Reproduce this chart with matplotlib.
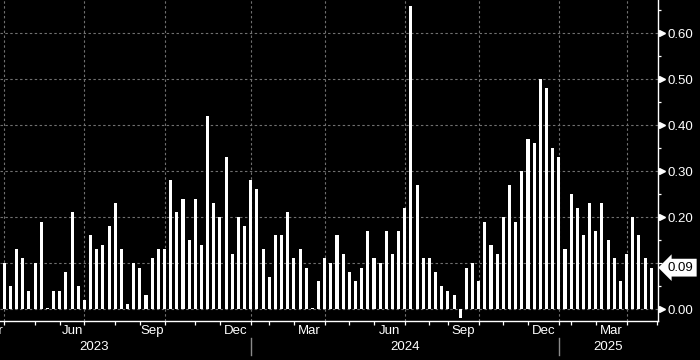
import numpy as np
import matplotlib
matplotlib.use("Agg")
import matplotlib.pyplot as plt
import matplotlib.transforms as mtransforms
from matplotlib.ticker import MultipleLocator, FixedLocator, FuncFormatter

# ---------------- data ----------------
values = [
    0.10, 0.05, 0.13, 0.11, 0.04, 0.10, 0.19, 0.002, 0.04, 0.04, 0.08, 0.21, 0.05, 0.02,
    0.16, 0.13, 0.14, 0.18, 0.23, 0.13, 0.01, 0.10, 0.09, 0.03, 0.11, 0.13, 0.13, 0.28,
    0.21, 0.24, 0.15, 0.24, 0.14, 0.42, 0.23, 0.20, 0.33, 0.12, 0.20, 0.18, 0.28, 0.26,
    0.13, 0.07, 0.16, 0.16, 0.21, 0.11, 0.13, 0.09, 0.002, 0.06, 0.11, 0.10, 0.16, 0.12,
    0.08, 0.06, 0.09, 0.17, 0.11, 0.10, 0.17, 0.12, 0.17, 0.22, 0.66, 0.27, 0.11, 0.11,
    0.08, 0.05, 0.04, 0.03, -0.02, 0.09, 0.10, 0.06, 0.19, 0.14, 0.12, 0.20, 0.27, 0.19,
    0.30, 0.37, 0.36, 0.50, 0.48, 0.35, 0.33, 0.13, 0.25, 0.22, 0.16, 0.23, 0.17, 0.23,
    0.15, 0.11, 0.06, 0.12, 0.20, 0.16, 0.11, 0.09,
]
# months from Jan 2023 to Apr 2025 and how many weekly bars fall in each
month_names = ["Jan", "Feb", "Mar", "Apr", "May", "Jun", "Jul", "Aug", "Sep", "Oct", "Nov", "Dec",
               "Jan", "Feb", "Mar", "Apr", "May", "Jun", "Jul", "Aug", "Sep", "Oct", "Nov", "Dec",
               "Jan", "Feb", "Mar", "Apr"]
month_years = [2023] * 12 + [2024] * 12 + [2025] * 4
bars_per_month = [3, 4, 4, 5, 4, 4, 5, 4, 4, 5, 4, 5,
                  3, 4, 5, 4, 4, 5, 4, 3, 5, 4, 4, 5,
                  2, 4, 5, 5]
weeks_before_data = 11          # Jan-Mar 2023 lie left of the first bar
labelled_months = ["Mar", "Jun", "Sep", "Dec"]
quarter_months = ["Jan", "Apr", "Jul", "Oct"]
y_major = [0.0, 0.1, 0.2, 0.3, 0.4, 0.5, 0.6]

# ---------------- figure ----------------
W, H = 700, 360
plt.rcParams["font.family"] = ["Liberation Sans", "DejaVu Sans"]
fig = plt.figure(figsize=(W / 100, H / 100), dpi=100, facecolor="black")
ax = fig.add_axes([0, 1 - 321 / H, 658 / W, 321 / H], facecolor="black")

n = len(values)
x = np.arange(n)
ax.bar(x, values, width=0.5, color="white", linewidth=0, zorder=3)

ax.set_xlim(-0.70, n + 0.1)
ax.set_ylim(-0.026, 0.672)

starts = np.concatenate([[0], np.cumsum(bars_per_month)]) - weeks_before_data
month_start = starts[:-1]
month_end = starts[1:]

# x ticks: quarter starts (gridlines) and month starts (minor)
q_ticks = [s for s, m in zip(month_start, month_names) if m in quarter_months]
ax.xaxis.set_major_locator(FixedLocator(q_ticks))
ax.xaxis.set_minor_locator(FixedLocator(list(month_start) + [starts[-1]]))
ax.tick_params(axis="x", which="both", direction="out", length=3, width=0.9,
               color="white", labelbottom=False)
ax.grid(axis="x", which="major", color="#707070", linestyle=(0, (2.2, 2.2)), lw=0.8, zorder=1)

# value shown in the last-value tag hides the nearest axis label
last_val = values[-1]
hidden_label = min(y_major, key=lambda v: abs(v - last_val))

def yfmt(v, pos):
    if abs(v - hidden_label) < 1e-9:
        return ""
    return f"{v:.2f}"

# y axis on the right
ax.yaxis.tick_right()
ax.yaxis.set_major_locator(FixedLocator(y_major))
ax.yaxis.set_minor_locator(MultipleLocator(0.1, offset=0.05))
ax.yaxis.set_major_formatter(FuncFormatter(yfmt))
ax.tick_params(axis="y", which="major", length=3, width=0.9, color="white", pad=4,
               labelsize=9.5, labelcolor="white")
ax.tick_params(axis="y", which="minor", length=2.5, width=0.9, color="white")
ax.grid(axis="y", which="major", color="#707070", linestyle=(0, (2.2, 2.2)), lw=0.8, zorder=1)

for s in ["top", "left"]:
    ax.spines[s].set_visible(False)
for s in ["right", "bottom"]:
    ax.spines[s].set_color("white")
    ax.spines[s].set_linewidth(1.0)

# triangle tick markers on the value axis
tri_tr = mtransforms.blended_transform_factory(ax.transAxes, ax.transData) + \
    mtransforms.ScaledTranslation(4 / 100, 0, fig.dpi_scale_trans)
tri_y = [v for v in y_major if v != hidden_label]
ax.plot([1.0] * len(tri_y), tri_y, linestyle="none", marker=">", ms=5,
        color="white", transform=tri_tr, clip_on=False, zorder=5)

# month labels and year labels
xlab_tr = mtransforms.blended_transform_factory(ax.transData, fig.transFigure)
for s, e, m in zip(month_start, month_end, month_names):
    if m in labelled_months:
        ax.text((s + e) / 2, 1 - 331 / H, m, transform=xlab_tr, ha="center",
                va="center", color="white", fontsize=9.5, clip_on=False)
years = sorted(set(month_years))
for yv in years:
    idx = [i for i, yy in enumerate(month_years) if yy == yv]
    ys, ye = starts[idx[0]], starts[idx[-1] + 1]
    ax.text((ys + ye) / 2, 1 - 347 / H, str(yv), transform=xlab_tr, ha="center",
            va="center", color="white", fontsize=9.5, clip_on=False)
    if yv != years[0]:
        fig.add_artist(plt.Line2D([ys, ys], [1 - 338 / H, 1 - 355 / H], transform=xlab_tr,
                                  color="#8a8a8a", lw=1.0))

# last value tag
last_tr = mtransforms.blended_transform_factory(ax.transAxes, ax.transData) + \
    mtransforms.ScaledTranslation(10 / 100, 0, fig.dpi_scale_trans)
ax.text(1.0, last_val, f"{last_val:.2f}", transform=last_tr, ha="left", va="center",
        color="black", fontsize=9.5, clip_on=False, zorder=6,
        bbox=dict(boxstyle="larrow,pad=0.22", fc="white", ec="white", lw=0))

fig.savefig("out.png", dpi=100, facecolor="black")
